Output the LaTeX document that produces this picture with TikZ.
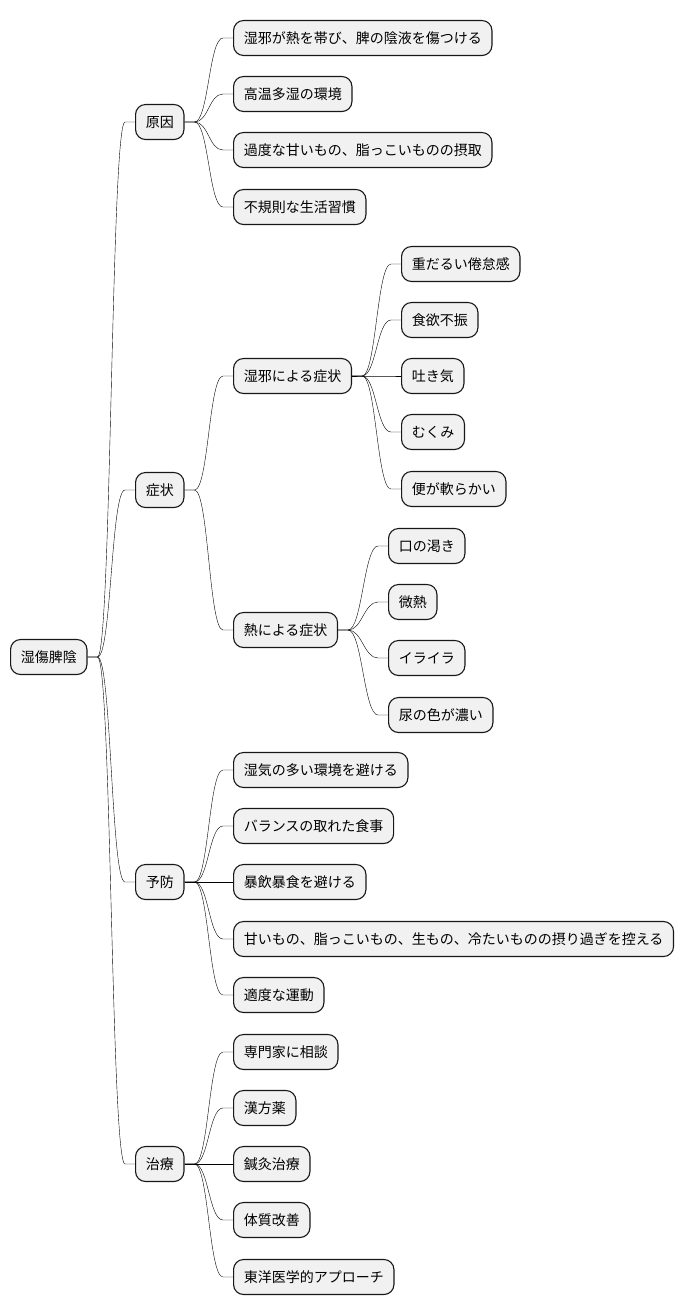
\documentclass[tikz,border=0pt]{standalone}
\usepackage{fontspec}
\newfontfamily\cjk{Noto Sans CJK JP}
\definecolor{boxfill}{HTML}{F1F1F1}
\definecolor{linec}{HTML}{181818}
\tikzset{
  mbox/.style={draw=linec, fill=boxfill, line width=1.1pt, rounded corners=10pt,
    font=\cjk\fontsize{14}{16}\selectfont, inner xsep=10.2pt, inner ysep=0pt,
    text height=12pt, text depth=2pt, minimum height=35pt, anchor=west},
  conn/.style={draw=linec, line width=1pt,
    to path={-- ++(10,0) .. controls +(14,0) and +(-14,0) .. ([xshift=-10pt]\tikztotarget) -- (\tikztotarget)}}
}
\begin{document}
\begin{tikzpicture}[x=1pt,y=-1pt]
\useasboundingbox[fill=white] (0,0) rectangle (684,1315);
\node[mbox] (root) at (10,657) {湿傷脾陰};
\node[mbox] (a) at (135,122) {原因};
\node[mbox] (a1) at (233,38) {湿邪が熱を帯び、脾の陰液を傷つける};
\node[mbox] (a2) at (233,94) {高温多湿の環境};
\node[mbox] (a3) at (233,150) {過度な甘いもの、脂っこいものの摂取};
\node[mbox] (a4) at (233,207) {不規則な生活習慣};
\node[mbox] (b) at (135,490) {症状};
\node[mbox] (b1) at (233,376) {湿邪による症状};
\node[mbox] (b11) at (401,264) {重だるい倦怠感};
\node[mbox] (b12) at (401,320) {食欲不振};
\node[mbox] (b13) at (401,376) {吐き気};
\node[mbox] (b14) at (401,432) {むくみ};
\node[mbox] (b15) at (401,489) {便が軟らかい};
\node[mbox] (b2) at (233,630) {熱による症状};
\node[mbox] (b21) at (388,546) {口の渇き};
\node[mbox] (b22) at (388,602) {微熱};
\node[mbox] (b23) at (388,658) {イライラ};
\node[mbox] (b24) at (388,715) {尿の色が濃い};
\node[mbox] (c) at (135,882) {予防};
\node[mbox] (c1) at (233,770) {湿気の多い環境を避ける};
\node[mbox] (c2) at (233,826) {バランスの取れた食事};
\node[mbox] (c3) at (233,882) {暴飲暴食を避ける};
\node[mbox] (c4) at (233,939) {甘いもの、脂っこいもの、生もの、冷たいものの摂り過ぎを控える};
\node[mbox] (c5) at (233,995) {適度な運動};
\node[mbox] (d) at (135,1164) {治療};
\node[mbox] (d1) at (233,1052) {専門家に相談};
\node[mbox] (d2) at (233,1108) {漢方薬};
\node[mbox] (d3) at (233,1164) {鍼灸治療};
\node[mbox] (d4) at (233,1220) {体質改善};
\node[mbox] (d5) at (233,1277) {東洋医学的アプローチ};
\foreach \c in {a,b,c,d} \draw (root.east) to[conn] (\c.west);
\foreach \c in {a1,a2,a3,a4} \draw (a.east) to[conn] (\c.west);
\foreach \c in {b1,b2} \draw (b.east) to[conn] (\c.west);
\foreach \c in {b11,b12,b13,b14,b15} \draw (b1.east) to[conn] (\c.west);
\foreach \c in {b21,b22,b23,b24} \draw (b2.east) to[conn] (\c.west);
\foreach \c in {c1,c2,c3,c4,c5} \draw (c.east) to[conn] (\c.west);
\foreach \c in {d1,d2,d3,d4,d5} \draw (d.east) to[conn] (\c.west);
\end{tikzpicture}
\end{document}
